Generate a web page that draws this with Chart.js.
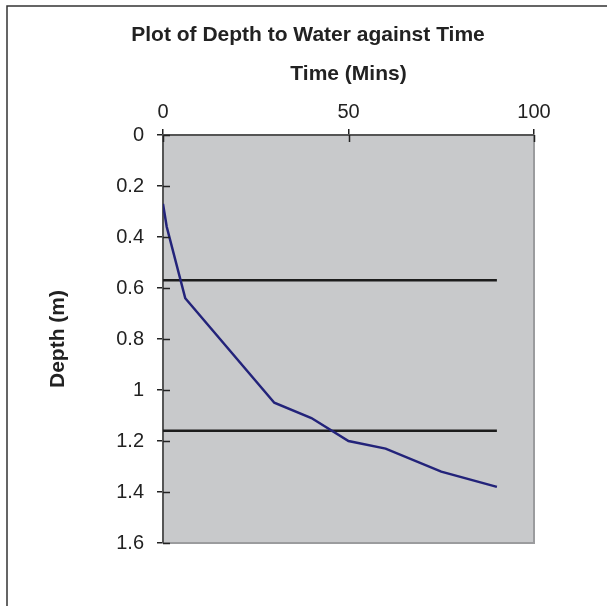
<!DOCTYPE html>
<html>
<head>
<meta charset="utf-8">
<script src="https://cdn.jsdelivr.net/npm/chart.js@4.4.1/dist/chart.umd.min.js"></script>
<style>
  html, body { margin: 0; padding: 0; background: #fff; }
  #wrap { width: 607px; height: 606px; }
</style>
</head>
<body>
<div id="wrap"><canvas id="depth-chart" width="607" height="606"></canvas></div>
<script>
// readings
const timeMins = [0, 1, 6, 30, 40, 50, 60, 75, 90];
const depthM = [0.27, 0.36, 0.64, 1.05, 1.11, 1.20, 1.23, 1.32, 1.38];
// the two flat reference lines
const refTimes = [0, 90];
const refDepthUpper = [0.57, 0.57];
const refDepthLower = [1.16, 1.16];
// axis ticks
const xTicks = [0, 50, 100];
const yTicks = [0, 0.2, 0.4, 0.6, 0.8, 1, 1.2, 1.4, 1.6];

const textColor = '#222';
const family = '"Liberation Sans", Arial, sans-serif';

function toPoints(xs, ys) {
    return xs.map((x, i) => ({ x: x, y: ys[i] }));
}

// grey plot area, right/bottom edges, tick marks crossing into the plot, frame and main title
const chartDecor = {
    id: 'chartDecor',
    beforeDraw(chart) {
        // drawn before the scales so the axis lines stay on top
        const { ctx, chartArea: a } = chart;
        ctx.save();
        ctx.fillStyle = '#c8c9cb';
        ctx.fillRect(a.left, a.top, a.right - a.left, a.bottom - a.top);
        ctx.strokeStyle = '#9b9c9e';
        ctx.lineWidth = 2;
        ctx.beginPath();
        ctx.moveTo(a.right, a.top);
        ctx.lineTo(a.right, a.bottom);
        ctx.lineTo(a.left, a.bottom);
        ctx.stroke();
        ctx.restore();
    },
    afterDraw(chart) {
        const { ctx, chartArea: a, scales } = chart;
        ctx.save();
        // inner half of the tick marks
        ctx.strokeStyle = '#222';
        ctx.lineWidth = 1.5;
        ctx.beginPath();
        yTicks.forEach(v => {
            const py = Math.round(scales.y.getPixelForValue(v)) + 0.5;
            ctx.moveTo(a.left, py);
            ctx.lineTo(a.left + 7, py);
        });
        xTicks.forEach(v => {
            const px = Math.round(scales.x.getPixelForValue(v)) + 0.5;
            ctx.moveTo(px, a.top);
            ctx.lineTo(px, a.top + 7);
        });
        ctx.stroke();
        // outer frame
        ctx.strokeStyle = '#333';
        ctx.lineWidth = 1.5;
        ctx.beginPath();
        ctx.moveTo(7, 620);
        ctx.lineTo(7, 6);
        ctx.lineTo(620, 6);
        ctx.stroke();
        ctx.fillStyle = textColor;
        ctx.font = 'bold 21px ' + family;
        ctx.textAlign = 'center';
        ctx.textBaseline = 'middle';
        ctx.fillText('Plot of Depth to Water against Time', 308, 35);
        ctx.restore();
    }
};

const ctx = document.getElementById('depth-chart').getContext('2d');
new Chart(ctx, {
    type: 'scatter',
    data: {
        datasets: [
            {
                label: 'Depth',
                data: toPoints(timeMins, depthM),
                showLine: true,
                borderColor: '#23237a',
                borderWidth: 2.5,
                pointRadius: 0,
                tension: 0
            },
            {
                label: 'Upper',
                data: toPoints(refTimes, refDepthUpper),
                showLine: true,
                borderColor: '#1c1c1c',
                borderWidth: 2.5,
                pointRadius: 0
            },
            {
                label: 'Lower',
                data: toPoints(refTimes, refDepthLower),
                showLine: true,
                borderColor: '#1c1c1c',
                borderWidth: 2.5,
                pointRadius: 0
            }
        ]
    },
    options: {
        responsive: false,
        animation: false,
        layout: { padding: { top: 55, left: 40, right: 73, bottom: 63 } },
        plugins: {
            legend: { display: false },
            tooltip: { enabled: false },
            title: { display: false }
        },
        scales: {
            x: {
                type: 'linear',
                position: 'top',
                min: 0,
                max: 100,
                afterBuildTicks: scale => { scale.ticks = xTicks.map(v => ({ value: v })); },
                afterFit: scale => { scale.height = 80; },
                ticks: {
                    color: textColor,
                    font: { family: family, size: 20 },
                    padding: 5,
                    maxRotation: 0,
                    callback: v => String(v)
                },
                grid: { drawOnChartArea: false, drawTicks: true, tickLength: 6, color: '#222', lineWidth: 1.5 },
                border: { color: '#555', width: 2 },
                title: {
                    display: true,
                    text: 'Time (Mins)',
                    color: textColor,
                    font: { family: family, size: 21, weight: 'bold' },
                    padding: { top: 7, bottom: 0 }
                }
            },
            y: {
                type: 'linear',
                reverse: true,
                min: 0,
                max: 1.6,
                afterBuildTicks: scale => { scale.ticks = yTicks.map(v => ({ value: v })); },
                afterFit: scale => { scale.width = 123; },
                ticks: {
                    color: textColor,
                    font: { family: family, size: 20 },
                    padding: 13,
                    callback: v => String(v)
                },
                grid: { drawOnChartArea: false, drawTicks: true, tickLength: 6, color: '#222', lineWidth: 1.5 },
                border: { color: '#555', width: 2 },
                title: {
                    display: true,
                    text: 'Depth (m)',
                    color: textColor,
                    font: { family: family, size: 21, weight: 'bold' },
                    padding: { top: 6, bottom: 0 }
                }
            }
        }
    },
    plugins: [chartDecor]
});
</script>
</body>
</html>
